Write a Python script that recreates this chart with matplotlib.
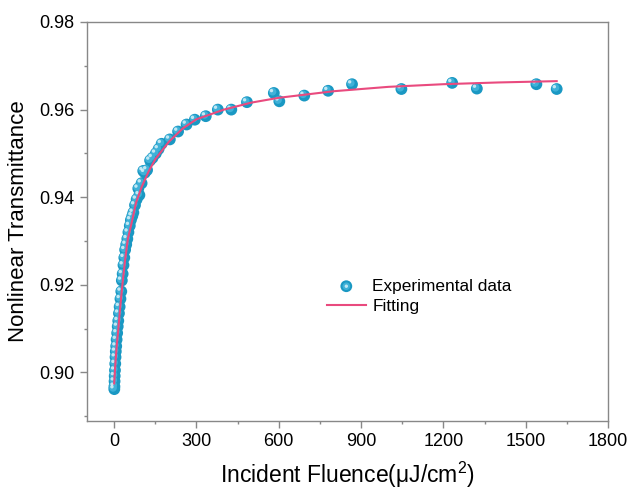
import matplotlib
matplotlib.use("Agg")
import matplotlib.pyplot as plt
import matplotlib.transforms as mtransforms
from matplotlib.ticker import MultipleLocator, FormatStrFormatter
from matplotlib.legend_handler import HandlerTuple

plt.rcParams['font.family'] = ['Liberation Sans', 'DejaVu Sans']
plt.rcParams['mathtext.default'] = 'regular'

# experimental points (fluence in uJ/cm^2, transmittance)
exp_x = [0.5, 1, 1.5, 2, 3, 4, 5, 6, 7.5, 9, 11, 13, 15, 17.5, 20, 23, 26, 28,
         31, 34, 37, 40, 44, 48, 52, 57, 61, 66, 70, 76, 82, 88, 92, 100, 106,
         112, 120, 131, 140, 152, 162, 173, 203, 233, 264, 294, 334, 378, 427,
         484, 582, 602, 693, 780, 867, 1047, 1232, 1322, 1539, 1613]
exp_y = [0.8962, 0.8968, 0.8980, 0.8992, 0.9005, 0.9020, 0.9035, 0.9048, 0.9060,
         0.9075, 0.9090, 0.9105, 0.9118, 0.9135, 0.9150, 0.9168, 0.9185, 0.9210,
         0.9225, 0.9245, 0.9262, 0.9280, 0.9292, 0.9305, 0.9320, 0.9335, 0.9348,
         0.9357, 0.9365, 0.9382, 0.9395, 0.9420, 0.9405, 0.9432, 0.9460, 0.9456,
         0.9462, 0.9484, 0.9490, 0.9500, 0.9510, 0.9522, 0.9532, 0.9550, 0.9566,
         0.9577, 0.9585, 0.9600, 0.9600, 0.9617, 0.9638, 0.9619, 0.9632, 0.9643,
         0.9658, 0.9647, 0.9661, 0.9648, 0.9658, 0.9647]

# fitted curve
fit_x = [0, 5, 10, 15, 20, 30, 40, 50, 65, 80, 100, 125, 150, 200, 250, 300,
         400, 500, 600, 800, 1000, 1200, 1400, 1613]
fit_y = [0.8975, 0.9025, 0.9065, 0.9098, 0.9135, 0.9200, 0.9257, 0.9305, 0.9345,
         0.9388, 0.9423, 0.9458, 0.9487, 0.9527, 0.9557, 0.9578, 0.9600, 0.9616,
         0.9627, 0.9642, 0.9652, 0.9658, 0.9662, 0.9665]

fig = plt.figure(figsize=(6.33, 4.91), dpi=100)
ax = fig.add_axes([0.137, 0.1432, 0.8235, 0.812])

dot_col = '#1a98c3'
line_col = '#e94a7e'

sc = ax.scatter(exp_x, exp_y, s=72, color=dot_col, edgecolors='none', zorder=2)
# soft shine on the balls
shift1 = mtransforms.ScaledTranslation(-0.9 / 72, 0.9 / 72, fig.dpi_scale_trans)
shift2 = mtransforms.ScaledTranslation(-1.7 / 72, 1.7 / 72, fig.dpi_scale_trans)
mid = ax.scatter(exp_x, exp_y, s=30, color='#3fb1d8', edgecolors='none',
                 zorder=2.5, transform=ax.transData + shift1)
hl = ax.scatter(exp_x, exp_y, s=6, color='#d9f1f9', alpha=0.85, edgecolors='none',
                zorder=3, transform=ax.transData + shift2)
ln, = ax.plot(fit_x, fit_y, color=line_col, lw=1.5, zorder=4)

ax.set_xlim(-100, 1800)
ax.set_ylim(0.889, 0.98)
ax.xaxis.set_major_locator(MultipleLocator(300))
ax.xaxis.set_minor_locator(MultipleLocator(150))
ax.yaxis.set_major_locator(MultipleLocator(0.02))
ax.yaxis.set_minor_locator(MultipleLocator(0.01))
ax.yaxis.set_major_formatter(FormatStrFormatter('%.2f'))

for s in ax.spines.values():
    s.set_color('#888888')
    s.set_linewidth(1.0)
ax.tick_params(which='both', direction='out', color='#888888', labelsize=13,
               top=False, right=False)
ax.tick_params(which='major', length=5, width=1, pad=4)
ax.tick_params(which='minor', length=2.5, width=1)

ax.set_xlabel('Incident Fluence(μJ/cm$^{2}$)', fontsize=16.5, labelpad=7)
ax.set_ylabel('Nonlinear Transmittance', fontsize=16, labelpad=7)

ax.legend([(sc, mid, hl), ln], ['Experimental data', 'Fitting'],
          handler_map={tuple: HandlerTuple(ndivide=1)},
          loc='center left', bbox_to_anchor=(0.46, 0.3115), frameon=False,
          fontsize=12.4, borderpad=0, borderaxespad=0, handlelength=2.3,
          handletextpad=0.35, labelspacing=0.32)

fig.savefig('out.png', dpi=100)
